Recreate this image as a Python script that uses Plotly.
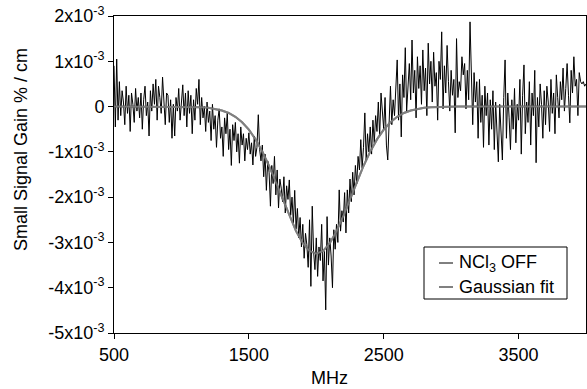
import numpy as np
import plotly.graph_objects as go

# ---- data (values in units of 1e-3 %/cm) ----
freq_data = list(range(500, 4001, 10))  # MHz
gain_data_e3 = [
    0.90, -0.45, 1.05, -0.30, 0.55, -0.20, 0.35, 0.10, -0.40, 0.45,
    -0.15, 0.25, -0.55, 0.30, 0.05, -0.35, 0.40, -0.10, 0.20, -0.25,
    0.30, -0.50, 0.15, 0.45, -0.20, 0.10, -0.65, 0.35, -0.10, 0.50,
    0.05, 0.60, -0.30, 0.45, 0.20, -0.15, 0.65, 0.10, -0.40, 0.30,
    0.25, -0.35, 0.15, -0.70, 0.05, -0.65, 0.20, -0.10, 0.40, -0.30,
    0.10, 0.48, -0.20, 0.30, -0.45, 0.35, -0.15, 0.25, -0.60, 0.15,
    -0.30, 0.40, 0.05, 0.60, -0.40, 0.20, -0.25, 0.00, -0.55, 0.10,
    -0.35, -0.10, -0.75, 0.05, -0.50, -0.20, -0.90, -0.30, -0.05, -0.70,
    -0.45, -1.10, -0.25, -0.60, -0.15, -0.95, -0.50, -1.30, -0.40, -0.75,
    -0.35, -1.00, -0.60, -1.25, -0.45, -0.85, -0.60, -1.20, -0.70, -0.95,
    -0.58, -1.05, -0.80, -1.29, -0.65, -1.10, -0.90, -0.18, -0.95, -1.20,
    -0.85, -1.55, -1.05, -1.85, -1.20, -1.45, -2.20, -1.30, -1.70, -1.10,
    -1.95, -1.40, -2.24, -1.60, -1.80, -2.10, -1.55, -2.35, -1.75, -2.05,
    -1.62, -2.40, -2.00, -2.57, -1.85, -2.70, -2.25, -2.90, -2.45, -3.10,
    -2.60, -3.35, -2.80, -3.05, -3.55, -2.50, -3.97, -2.20, -3.20, -3.60,
    -2.90, -3.75, -3.10, -3.40, -2.60, -3.85, -3.20, -4.49, -2.43, -3.50,
    -2.90, -3.30, -4.00, -2.72, -3.15, -2.60, -3.00, -1.84, -2.75, -2.30,
    -2.55, -1.90, -2.79, -1.84, -2.35, -1.60, -2.10, -1.45, -1.95, -1.30,
    -1.70, -1.10, -1.40, -0.73, -1.35, -0.90, -0.14, -1.20, -0.60, -1.00,
    -0.45, -1.05, -0.30, -0.80, -0.20, -0.55, 0.10, -0.65, 0.30, -0.25,
    -0.50, 0.20, -0.85, -1.18, -0.10, 0.45, -0.40, 0.15, -0.20, 0.60,
    1.03, -0.30, 0.50, -0.67, 0.70, 0.20, 1.30, -0.10, 0.60, 0.95,
    0.15, 1.47, 0.30, 0.80, -0.25, 1.10, 0.40, 0.90, 0.05, 1.25,
    0.35, 0.85, -0.20, 1.40, 0.50, 1.00, 0.10, 1.20, 0.45, 0.75,
    -0.30, 1.00, 0.60, 1.65, -0.05, 0.90, 0.30, 1.35, 0.55, -0.10,
    0.80, 0.25, 0.60, -0.58, 1.50, 0.20, 0.55, 0.35, 1.10, 0.70,
    0.95, -0.05, 0.80, 0.15, 1.87, 0.30, -0.40, 0.75, 0.10, 0.55,
    -0.70, 0.60, -0.35, 0.25, -0.90, 0.45, -0.20, 0.30, -0.85, 0.15,
    -0.50, 0.35, -0.95, 0.10, -0.45, -1.22, 0.05, -0.65, -1.18, 0.20,
    1.03, -0.70, 0.30, -0.25, -0.95, 0.15, -0.50, 0.40, -0.80, 0.05,
    -0.30, 0.60, -1.05, 0.25, 0.92, -0.60, 0.10, -0.35, 0.55, -0.85,
    0.30, -0.20, 0.80, -1.24, 0.20, -0.45, 0.50, 0.05, -0.70, 0.35,
    -0.40, 0.45, 0.10, -0.55, 0.60, -0.15, 0.30, -0.60, 0.70, 0.20,
    -0.25, 0.55, 0.15, 0.85, -0.10, 0.40, 0.95, 0.25, -0.36, 0.80,
    0.30, 1.10, 0.45, 0.60, -0.20, 0.75, 0.55, 0.50, 0.55, 0.45,
    0.50,
]

freq_fit = list(range(500, 4001, 50))
gain_fit_e3 = [
    0.0, 0.0, 0.0, 0.0, 0.0, 0.0, 0.0, 0.0,            # 500-850
    -0.001, -0.001, -0.002, -0.004, -0.008, -0.015,    # 900-1150
    -0.028, -0.050, -0.086, -0.142, -0.226, -0.346,    # 1200-1450
    -0.510, -0.725, -0.994, -1.312, -1.669, -2.046,    # 1500-1750
    -2.417, -2.751, -3.018, -3.190, -3.250, -3.190,    # 1800-2050
    -3.018, -2.751, -2.417, -2.046, -1.669, -1.312,    # 2100-2350
    -0.994, -0.725, -0.510, -0.346, -0.226, -0.142,    # 2400-2650
    -0.086, -0.050, -0.028, -0.015, -0.008, -0.004,    # 2700-2950
    -0.002, -0.001, -0.001,                            # 3000-3100
    0.0, 0.0, 0.0, 0.0, 0.0, 0.0, 0.0, 0.0, 0.0,       # 3150-3550
    0.0, 0.0, 0.0, 0.0, 0.0, 0.0, 0.0, 0.0, 0.0,       # 3600-4000
]

x_ticks = [500, 1500, 2500, 3500]
y_tick_vals_e3 = [2, 1, 0, -1, -2, -3, -4, -5]
y_tick_text = ["2x10<sup>-3</sup>", "1x10<sup>-3</sup>", "0", "-1x10<sup>-3</sup>",
               "-2x10<sup>-3</sup>", "-3x10<sup>-3</sup>", "-4x10<sup>-3</sup>",
               "-5x10<sup>-3</sup>"]
series_names = ["NCl<sub>3</sub> OFF", "Gaussian fit"]

FONT = "Liberation Sans, Arial, sans-serif"
scale = 1e-3

fig = go.Figure()
fig.add_trace(go.Scatter(
    x=freq_fit, y=np.array(gain_fit_e3) * scale, mode="lines",
    line=dict(color="#808080", width=2), name="Gaussian fit", showlegend=False))
fig.add_trace(go.Scatter(
    x=freq_data, y=np.array(gain_data_e3) * scale, mode="lines",
    line=dict(color="black", width=1), name="NCl3 OFF", showlegend=False))
# redraw fit on top lightly as in reference (gray visible through noise)
fig.add_trace(go.Scatter(
    x=freq_fit, y=np.array(gain_fit_e3) * scale, mode="lines",
    line=dict(color="#808080", width=2), opacity=0.9, showlegend=False,
    hoverinfo="skip"))

L, R, T, B = 114, 1, 16, 56
W, H = 587, 389
pw, ph = W - L - R, H - T - B

def px(xp):
    return (xp - L) / pw

def py(yp):
    return 1 - (yp - T) / ph

fig.update_layout(
    width=W, height=H,
    margin=dict(l=L, r=R, t=T, b=B, pad=0),
    paper_bgcolor="white", plot_bgcolor="white",
    font=dict(family=FONT, size=18, color="black"),
    showlegend=False,
)
fig.update_xaxes(
    range=[500, 4000], tickvals=x_ticks, ticktext=[str(v) for v in x_ticks],
    ticks="outside", ticklen=5, tickwidth=1, tickcolor="black",
    showline=True, linecolor="black", linewidth=1, mirror=True,
    showgrid=False, zeroline=False, tickfont=dict(size=18),
)
fig.update_yaxes(
    range=[-5 * scale, 2 * scale],
    tickvals=[v * scale for v in y_tick_vals_e3], ticktext=y_tick_text,
    ticks="outside", ticklen=5, tickwidth=1, tickcolor="black",
    showline=True, linecolor="black", linewidth=1, mirror=True,
    showgrid=False, zeroline=False, tickfont=dict(size=18),
)

# axis titles
fig.add_annotation(text="MHz", xref="paper", yref="paper",
                   x=px(329), y=py(378), showarrow=False,
                   xanchor="center", yanchor="middle", font=dict(size=18))
fig.add_annotation(text="Small Signal Gain % / cm", xref="paper", yref="paper",
                   x=px(21), y=py(150), showarrow=False, textangle=-90,
                   xanchor="center", yanchor="middle", font=dict(size=18))

# legend box
fig.add_shape(type="rect", xref="paper", yref="paper",
              x0=px(424), x1=px(567), y0=py(299), y1=py(247),
              line=dict(color="black", width=1), fillcolor="white", layer="above")
legend_rows = [(263, "black", 1, series_names[0]), (287, "#808080", 2, series_names[1])]
for yp, col, w, name in legend_rows:
    fig.add_shape(type="line", xref="paper", yref="paper",
                  x0=px(439), x1=px(453), y0=py(yp), y1=py(yp),
                  line=dict(color=col, width=w), layer="above")
    fig.add_annotation(text=name, xref="paper", yref="paper",
                       x=px(457), y=py(yp), showarrow=False,
                       xanchor="left", yanchor="middle", font=dict(size=18))

fig.write_html("out.html")
